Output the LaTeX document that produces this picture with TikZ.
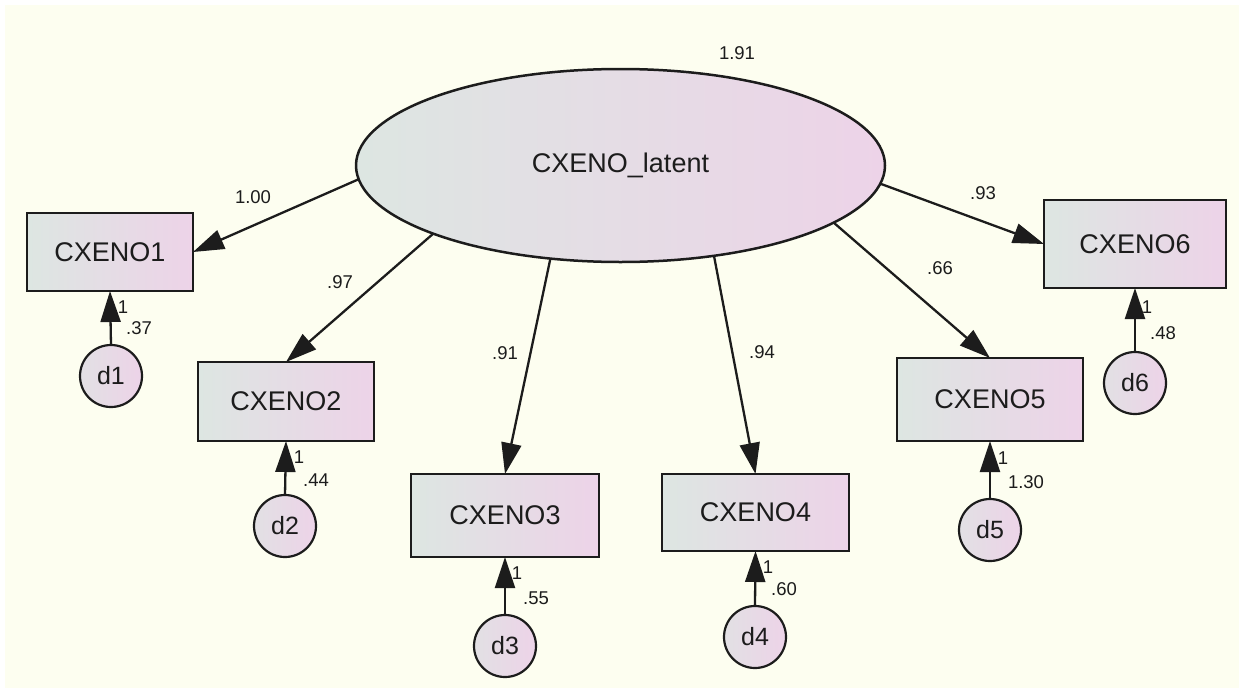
\documentclass[tikz,border=0pt]{standalone}
\usepackage{fontspec}
\setmainfont{Liberation Sans}
\usetikzlibrary{shapes.geometric,arrows.meta}
\definecolor{bg}{RGB}{253,254,240}
\definecolor{fillL}{RGB}{221,230,226}
\definecolor{fillR}{RGB}{237,211,232}
\definecolor{ink}{RGB}{28,28,28}
\tikzset{
  obsbox/.style={rectangle, draw=ink, line width=2.5pt, left color=fillL, right color=fillR,
    inner sep=0pt, outer sep=0pt, text=ink, font=\fontsize{27}{30}\selectfont},
  latbox/.style={ellipse, draw=ink, line width=2.5pt, left color=fillL, right color=fillR,
    inner sep=0pt, outer sep=0pt, minimum width=529pt, minimum height=193pt,
    text=ink, font=\fontsize{27}{30}\selectfont},
  errbox/.style={circle, draw=ink, line width=2.2pt, left color=fillL!70!fillR, right color=fillR,
    inner sep=0pt, outer sep=0pt, minimum size=62pt, text=ink, font=\fontsize{25}{28}\selectfont},
  coef/.style={inner sep=0pt, text=ink, font=\fontsize{18.5}{20}\selectfont},
  loadarrow/.style={draw=ink, line width=2.3pt, -{Triangle[length=31pt,width=20pt]}},
}
\begin{document}
\begin{tikzpicture}[x=1pt,y=-1pt]
  % canvas
  \fill[white] (0,0) rectangle (1239,688);
  \fill[bg] (5,5) rectangle (1239,688);
  \useasboundingbox (0,0) rectangle (1239,688);

  % latent factor
  \node[latbox] (lat) at (620.5,165.5) {CXENO\_latent};

  % indicators
  \node[obsbox, minimum width=166pt, minimum height=78pt] (x1) at (110,252) {CXENO1};
  \node[obsbox, minimum width=176pt, minimum height=79pt] (x2) at (286,401.5) {CXENO2};
  \node[obsbox, minimum width=188pt, minimum height=83pt] (x3) at (505,515.5) {CXENO3};
  \node[obsbox, minimum width=187pt, minimum height=77pt] (x4) at (755.5,512.5) {CXENO4};
  \node[obsbox, minimum width=186pt, minimum height=83pt] (x5) at (990,399.5) {CXENO5};
  \node[obsbox, minimum width=182pt, minimum height=88pt] (x6) at (1135,244) {CXENO6};

  % unique factors
  \node[errbox] (d1) at (111,376) {d1};
  \node[errbox] (d2) at (285,526) {d2};
  \node[errbox] (d3) at (505,646) {d3};
  \node[errbox] (d4) at (755,637) {d4};
  \node[errbox] (d5) at (990,530) {d5};
  \node[errbox] (d6) at (1135,383) {d6};

  % factor loadings
  \draw[loadarrow] (lat.183.7) -- (x1.east);
  \draw[loadarrow] (lat.200.2) -- (x2.north);
  \draw[loadarrow] (lat.233.4) -- (x3.north);
  \draw[loadarrow] (lat.316.7) -- (x4.north);
  \draw[loadarrow] (lat.345.4) -- (x5.north);
  \draw[loadarrow] (lat.356.3) -- (x6.west);

  % error paths
  \foreach \i in {1,...,6}{
    \draw[loadarrow] (d\i.north) -- (x\i.south);
  }

  % estimates
  \node[coef] (v0) at (737,53) {1.91};
  \node[coef] (b1) at (253,197) {1.00};
  \node[coef] (b2) at (340,282) {.97};
  \node[coef] (b3) at (505,353) {.91};
  \node[coef] (b4) at (762,352) {.94};
  \node[coef] (b5) at (940,268) {.66};
  \node[coef] (b6) at (983,193) {.93};

  \node[coef] (f1) at (123,307) {1};
  \node[coef] (v1) at (139,328) {.37};
  \node[coef] (f2) at (299,457) {1};
  \node[coef] (v2) at (316,480) {.44};
  \node[coef] (f3) at (517,573) {1};
  \node[coef] (v3) at (536,598) {.55};
  \node[coef] (f4) at (768,567) {1};
  \node[coef] (v4) at (784,589) {.60};
  \node[coef] (f5) at (1003,458) {1};
  \node[coef] (v5) at (1026,482) {1.30};
  \node[coef] (f6) at (1147,307) {1};
  \node[coef] (v6) at (1163,333) {.48};
\end{tikzpicture}
\end{document}
